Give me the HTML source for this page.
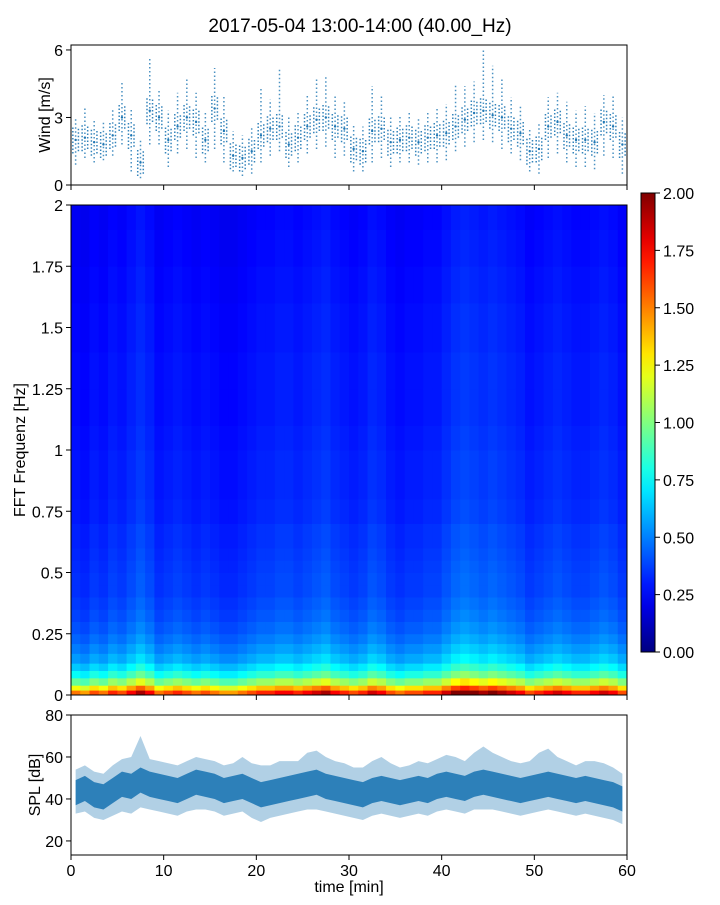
<!DOCTYPE html>
<html><head><meta charset="utf-8">
<style>
body{margin:0;background:#fff;}
svg text{font-family:"Liberation Sans",sans-serif;fill:#000;}
</style></head>
<body>
<svg id="fig" width="720" height="900" xmlns="http://www.w3.org/2000/svg">
<text x="360" y="32" font-size="19" text-anchor="middle">2017-05-04 13:00-14:00 (40.00_Hz)</text>
<g id="wind"></g>
<g id="heat"></g>
<g id="cbar"></g>
<g id="spl"></g>
</svg>
<script>
// ---- data ----
const minutes = [0,1,2,3,4,5,6,7,8,9,10,11,12,13,14,15,16,17,18,19,20,21,22,23,24,25,26,27,28,29,30,31,32,33,34,35,36,37,38,39,40,41,42,43,44,45,46,47,48,49,50,51,52,53,54,55,56,57,58,59];
const windMean = [2.0,2.1,1.9,1.8,2.2,3.0,2.2,1.0,3.3,3.0,2.0,2.6,3.0,2.8,2.0,3.4,2.4,1.3,1.2,1.5,2.2,2.5,2.6,1.8,2.1,2.6,2.9,3.0,2.6,2.5,1.6,1.5,2.4,2.5,1.9,2.0,2.1,1.9,2.1,2.2,2.3,2.6,2.9,3.2,3.3,3.1,3.0,2.5,2.3,1.5,1.6,2.6,2.8,2.2,2.0,2.0,1.9,2.8,2.6,1.8];
const windMin = [0.9,1.2,1.0,1.1,1.3,1.8,0.6,0.3,1.8,1.8,0.8,1.4,1.6,1.2,1.0,1.6,1.0,0.6,0.4,0.5,1.0,1.3,1.5,0.8,1.0,1.4,1.6,1.7,1.2,1.3,0.6,0.6,1.0,1.2,0.8,1.0,1.0,0.9,1.0,1.0,1.1,1.5,1.7,1.9,2.0,1.9,1.6,1.4,1.1,0.6,0.5,1.2,1.4,1.0,0.8,0.8,0.7,1.3,1.2,0.5];
const windMax = [3.0,3.5,2.9,2.8,3.4,4.6,3.4,2.0,5.7,4.2,3.3,4.1,4.8,4.1,3.2,5.2,4.0,2.4,2.2,2.6,4.3,3.8,5.2,3.0,3.3,4.0,4.7,4.9,4.0,3.7,2.7,2.6,4.4,4.0,3.1,3.1,3.3,3.0,3.3,3.4,3.6,4.5,4.4,4.6,6.0,5.3,4.8,3.9,3.5,2.5,2.8,3.9,4.1,3.7,3.3,3.5,3.2,4.0,4.0,3.0];
const freqEdges = [0,0.02,0.04,0.07,0.1,0.13,0.17,0.21,0.25,0.3,0.35,0.4,0.45,0.5,0.55,0.6,0.7,0.8,0.9,1.0,1.1,1.25,1.4,1.5,1.6,1.75,1.9,2.0];
const freqLevel = [1.6,1.3,1.0,0.8,0.68,0.58,0.52,0.47,0.43,0.4,0.38,0.36,0.36,0.35,0.34,0.33,0.31,0.3,0.3,0.29,0.28,0.28,0.27,0.27,0.26,0.25,0.24];
const timeFactor = [0.95,0.9,1.0,0.95,1.05,1.0,1.1,1.2,1.1,0.95,1.0,1.05,1.0,0.95,1.0,0.95,0.9,0.9,0.95,1.0,1.05,1.05,1.1,1.1,1.05,1.1,1.15,1.2,1.1,1.05,1.0,1.05,1.15,1.1,1.0,0.95,1.0,1.0,1.05,1.05,1.15,1.25,1.3,1.25,1.2,1.25,1.2,1.15,1.1,1.0,1.05,1.1,1.15,1.1,1.05,1.05,1.1,1.15,1.1,1.0];
const splMean = [43,45,42,41,44,47,46,49,47,46,45,44,46,48,47,46,44,45,46,44,42,43,44,45,46,47,48,46,45,44,43,42,44,45,44,43,44,45,44,46,47,46,45,47,48,47,46,45,44,45,46,47,46,45,44,45,44,43,42,40];
const splLow = [33,34,31,30,32,34,33,36,35,34,33,32,34,35,35,34,32,33,34,31,29,31,32,33,34,35,35,34,33,32,31,30,32,33,32,31,32,33,32,34,35,34,33,35,35,35,34,33,32,33,34,35,34,33,32,33,32,31,30,28];
const splHigh = [54,56,53,52,56,59,60,70,59,58,57,56,58,60,59,58,56,57,60,57,56,56,58,58,58,62,63,60,58,57,55,55,58,60,57,55,56,58,57,59,61,60,58,62,65,62,60,58,57,58,62,64,60,58,56,58,58,57,55,52];
const xTicks = [0,10,20,30,40,50,60];
const windTicks = [0,3,6];
const freqTicks = [0,0.25,0.5,0.75,1,1.25,1.5,1.75,2];
const freqTickLabels = ["0","0.25","0.5","0.75","1","1.25","1.5","1.75","2"];
const cbarTicks = [0,0.25,0.5,0.75,1,1.25,1.5,1.75,2];
const splTicks = [20,40,60,80];

// ---- helpers ----
const NS="http://www.w3.org/2000/svg";
function mk(parent,tag,attrs){const e=document.createElementNS(NS,tag);for(const k in attrs)e.setAttribute(k,attrs[k]);parent.appendChild(e);return e;}
const X0=71,X1=627;
const sx=t=>X0+(t/60)*(X1-X0);
function jet(v){v=Math.max(0,Math.min(1,v));
 const r=Math.max(0,Math.min(1,1.5-Math.abs(4*v-3))),g=Math.max(0,Math.min(1,1.5-Math.abs(4*v-2))),b=Math.max(0,Math.min(1,1.5-Math.abs(4*v-1)));
 return `rgb(${Math.round(r*255)},${Math.round(g*255)},${Math.round(b*255)})`;}
function frame(g,y0,y1,name){const r=mk(g,'rect',{x:X0,y:y0,width:X1-X0,height:y1-y0,fill:'none',stroke:'#000','stroke-width':1});
 }
function xticks(g,y1,labels){xTicks.forEach(t=>{const l=mk(g,'line',{x1:sx(t),x2:sx(t),y1:y1,y2:y1+5,stroke:'#000'});
 
 if(labels){const tx=mk(g,'text',{x:sx(t),y:y1+21,'font-size':16,'text-anchor':'middle'});tx.textContent=t;
 }});}
function yticks(g,ticks,labels,sy,x){ticks.forEach((t,i)=>{const y=sy(t);const l=mk(g,'line',{x1:x-5,x2:x,y1:y,y2:y,stroke:'#000'});
 
 const tx=mk(g,'text',{x:x-8,y:y+6,'font-size':16,'text-anchor':'end'});tx.textContent=labels[i];
 });}
function ylabel(g,txt,x,yc,name){const t=mk(g,'text',{x:x,y:yc,'font-size':16,'text-anchor':'middle',transform:`rotate(-90 ${x} ${yc})`});t.textContent=txt;
 }

// ---- wind ----
(function(){const g=document.getElementById('wind');const Y0=45,Y1=185;const sy=v=>Y1-(v/6.22)*(Y1-Y0);
 minutes.forEach((m,i)=>{
  const l=mk(g,'line',{x1:sx(m+0.5),x2:sx(m+0.5),y1:sy(windMin[i]),y2:sy(windMax[i]),stroke:'#1f77b4','stroke-width':1.5,'stroke-dasharray':'1.5 2.5',opacity:0.8});
  
  const l2=mk(g,'line',{x1:sx(m+0.2),x2:sx(m+0.2),y1:sy(windMean[i]-0.6),y2:sy(windMean[i]+0.6),stroke:'#1f77b4','stroke-width':1.5,'stroke-dasharray':'1.5 2',opacity:0.9});
  
  const l3=mk(g,'line',{x1:sx(m+0.8),x2:sx(m+0.8),y1:sy(windMean[i]-0.5),y2:sy(windMean[i]+0.5),stroke:'#1f77b4','stroke-width':1.5,'stroke-dasharray':'1.5 2',opacity:0.9});
  
  const c=mk(g,'circle',{cx:sx(m+0.5),cy:sy(windMean[i]),r:1.2,fill:'#1f77b4'});
  });
 frame(g,Y0,Y1,'wind-axes');xticks(g,Y1,false);yticks(g,windTicks,windTicks.map(String),sy,X0);
 ylabel(g,'Wind [m/s]',50,115,'wind-y-axis-title');})();

// ---- heatmap ----
(function(){const g=document.getElementById('heat');const Y0=205,Y1=695;const sy=f=>Y1-(f/2)*(Y1-Y0);
 minutes.forEach((m,i)=>{for(let j=0;j<freqLevel.length;j++){
  const v=freqLevel[j]*timeFactor[i];
  const r=mk(g,'rect',{x:sx(m),y:sy(freqEdges[j+1]),width:sx(m+1)-sx(m)+0.5,height:sy(freqEdges[j])-sy(freqEdges[j+1])+0.5,fill:jet(v/2)});
  }});
 frame(g,Y0,Y1,'spectrogram-axes');xticks(g,Y1,false);yticks(g,freqTicks,freqTickLabels,sy,X0);
 ylabel(g,'FFT Frequenz [Hz]',25,450,'spectrogram-y-axis-title');})();

// ---- colorbar ----
(function(){const g=document.getElementById('cbar');const Y0=193,Y1=652,CX=641,CW=14;const sy=v=>Y1-(v/2)*(Y1-Y0);
 const defs=mk(g,'defs',{});const lg=mk(defs,'linearGradient',{id:'jetg',x1:0,y1:1,x2:0,y2:0});
 for(let k=0;k<=20;k++){mk(lg,'stop',{offset:k/20,'stop-color':jet(k/20)});}
 const r=mk(g,'rect',{x:CX,y:Y0,width:CW,height:Y1-Y0,fill:'url(#jetg)',stroke:'#000'});
 
 cbarTicks.forEach(t=>{const y=sy(t);const l=mk(g,'line',{x1:CX+CW,x2:CX+CW+5,y1:y,y2:y,stroke:'#000'});
  
  const tx=mk(g,'text',{x:CX+CW+8,y:y+6,'font-size':16});tx.textContent=t.toFixed(2);
  });})();

// ---- SPL ----
(function(){const g=document.getElementById('spl');const Y0=715,Y1=855;const sy=v=>Y1-((v-13.3)/(80-13.3))*(Y1-Y0);
 let up='';minutes.forEach((m,i)=>{up+=(i?'L':'M')+sx(m+0.5)+','+sy(splHigh[i]);});
 for(let i=minutes.length-1;i>=0;i--){up+='L'+sx(minutes[i]+0.5)+','+sy(splLow[i]);}
 const a=mk(g,'path',{d:up+'Z',fill:'#1f77b4',opacity:0.35});
 let inner='';minutes.forEach((m,i)=>{inner+=(i?'L':'M')+sx(m+0.5)+','+sy(splMean[i]+6);});
 for(let i=minutes.length-1;i>=0;i--){inner+='L'+sx(minutes[i]+0.5)+','+sy(splMean[i]-6);}
 const b=mk(g,'path',{d:inner+'Z',fill:'#1f77b4',opacity:0.9});
 frame(g,Y0,Y1,'spl-axes');xticks(g,Y1,true);yticks(g,splTicks,splTicks.map(String),sy,X0);
 ylabel(g,'SPL [dB]',40,785,'spl-y-axis-title');
 const xl=mk(g,'text',{x:349,y:892,'font-size':16,'text-anchor':'middle'});xl.textContent='time [min]';
 })();
</script>
</body></html>
